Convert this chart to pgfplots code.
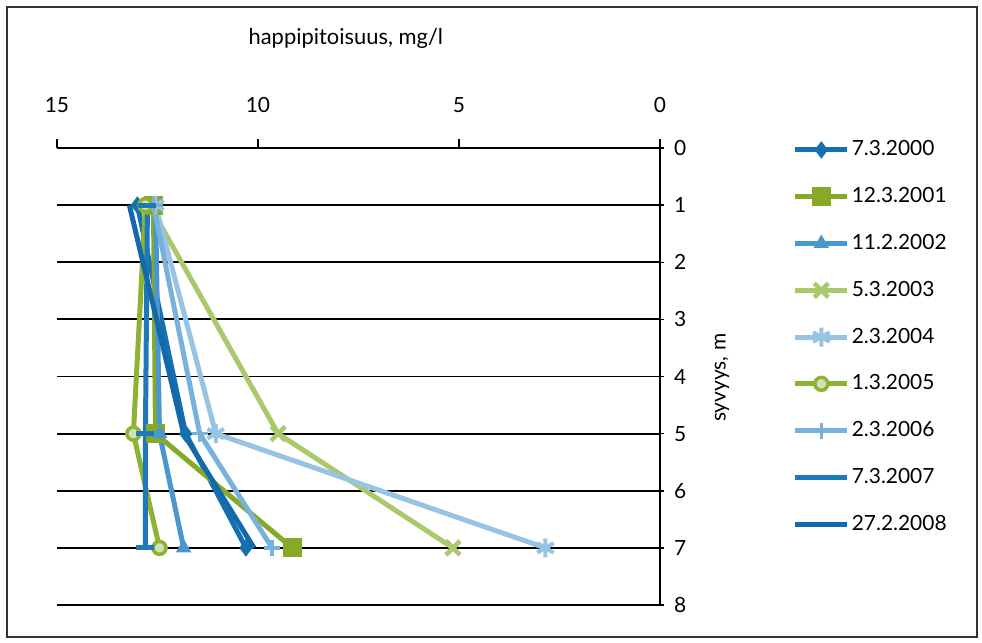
\documentclass[border=0pt]{standalone}
\usepackage{pgfplots}
\pgfplotsset{compat=1.18}
\usepackage{fontspec}
\setmainfont{Lato}

\definecolor{cA}{RGB}{21,112,176}
\definecolor{cB}{RGB}{134,170,40}
\definecolor{cC}{RGB}{74,150,208}
\definecolor{cD}{RGB}{170,200,110}
\definecolor{cE}{RGB}{150,196,226}
\definecolor{cF}{RGB}{140,180,50}
\definecolor{cFfill}{RGB}{210,225,180}
\definecolor{cG}{RGB}{120,178,220}
\definecolor{cH}{RGB}{30,120,185}
\definecolor{cI}{RGB}{20,105,170}

\begin{document}
\fontsize{21}{25}\selectfont
\begin{tikzpicture}
\draw[line width=1.5bp, black!80] (7bp,-7bp) rectangle (977bp,-637bp);
\begin{axis}[
    at={(57bp,-148bp)}, anchor=north west,
    scale only axis, width=603bp, height=457bp,
    xmin=0, xmax=15, ymin=0, ymax=8,
    x dir=reverse, y dir=reverse,
    axis x line=top, axis y line=right,
    xtick={0,5,10,15}, ytick={0,1,...,8},
    ymajorgrids,
    grid style={black, line width=1.8bp},
    axis line style={black, line width=1.8bp, -},
    tick style={black, line width=1.5bp},
    tick align=outside, major tick length=9bp,
    y tick style={xshift=-4.5bp},
    /pgf/number format/assume math mode=true,
    xticklabel style={yshift=19bp},
    yticklabel style={xshift=-2bp},
    xlabel={happipitoisuus, mg/l},
    ylabel={syvyys, m},
    xlabel style={at={(axis description cs:0.479,1.24)}, anchor=center, font=\fontsize{22}{26}\selectfont},
    ylabel style={at={(axis description cs:1.103,0.497)}, anchor=center},
    clip=false,
    legend style={draw=none, fill=none, at={(axis description cs:1.215,1.025)}, anchor=north west,
        row sep=24.5bp, font=\fontsize{21}{25}\selectfont},
    legend cell align=left,
    legend image code/.code={\draw[mark repeat=2,mark phase=2] plot coordinates {(0bp,0bp)(26bp,0bp)(52bp,0bp)};},
]
% depths 1, 5 and 7 m
\addplot[color=cA, line width=5bp, mark=diamond*, mark size=8bp, mark options={line width=1bp}] coordinates {(13.0,1) (11.8,5) (10.3,7)};
\addplot[color=cB, line width=5bp, mark=square*, mark size=9bp, mark options={line width=1bp}] coordinates {(12.6,1) (12.55,5) (9.15,7)};
\addplot[color=cC, line width=5bp, mark=triangle*, mark size=8bp, mark options={line width=1bp}] coordinates {(12.55,1) (12.45,5) (11.85,7)};
\addplot[color=cD, line width=5bp, mark=x, mark size=10bp, mark options={line width=4.5bp}] coordinates {(12.7,1) (9.5,5) (5.15,7)};
\addplot[color=cE, line width=5bp, mark=asterisk, mark size=9.5bp, mark options={line width=4bp}] coordinates {(12.55,1) (11.05,5) (2.85,7)};
\addplot[color=cF, line width=5bp, mark=*, mark size=6.5bp, mark options={fill=cFfill, draw=cF, line width=3.5bp}] coordinates {(12.8,1) (13.1,5) (12.45,7)};
\addplot[color=cG, line width=5bp, mark=+, mark size=8bp, mark options={line width=3.5bp}] coordinates {(12.6,1) (11.45,5) (9.65,7)};
\addplot[color=cH, line width=5bp, mark=-, mark size=9bp, mark options={line width=5bp}] coordinates {(12.75,1) (12.8,5) (12.8,7)};
\addplot[color=cI, line width=5bp] coordinates {(13.2,1) (11.85,5) (10.1,7)};
\legend{7.3.2000,12.3.2001,11.2.2002,5.3.2003,2.3.2004,1.3.2005,2.3.2006,7.3.2007,27.2.2008}
\end{axis}
\pgfresetboundingbox
\path[use as bounding box] (0bp,0bp) rectangle (982bp,-643bp);
\end{tikzpicture}
\end{document}
